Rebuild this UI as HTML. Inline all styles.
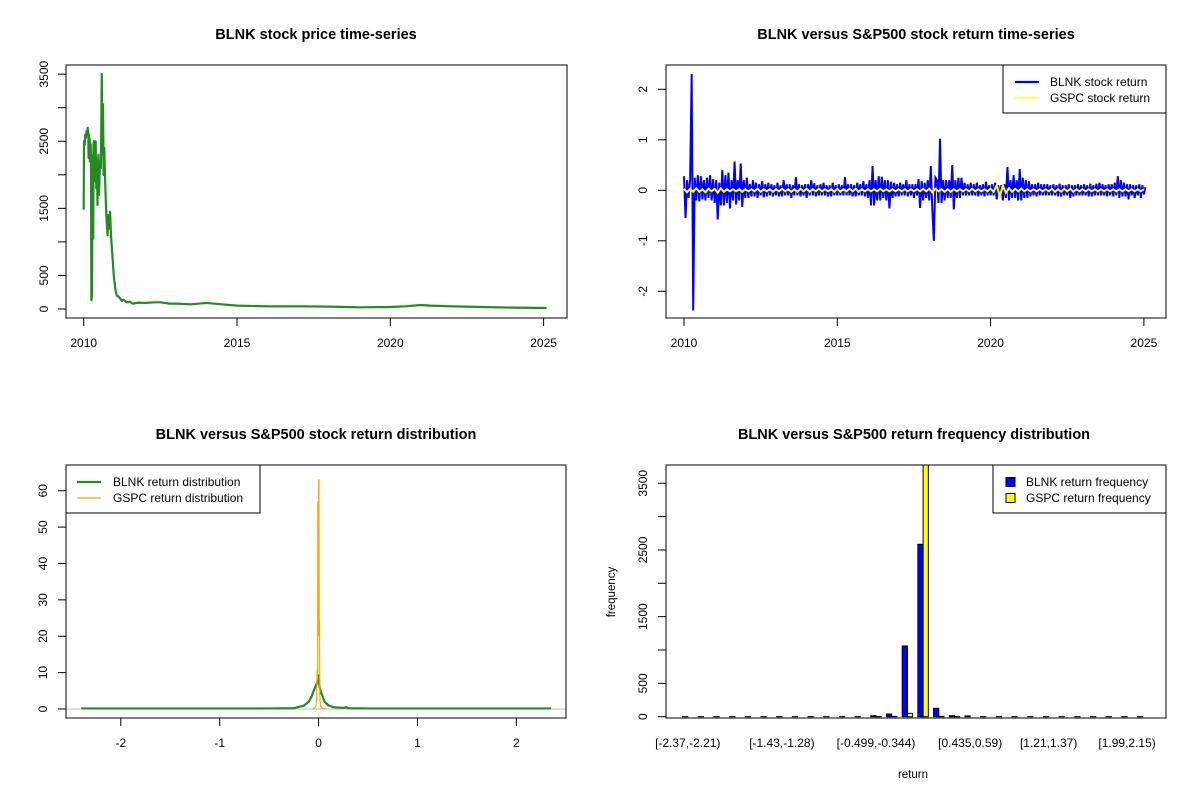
<!DOCTYPE html>
<html><head><meta charset="utf-8"><style>
html,body{margin:0;padding:0;background:#fff;}
svg{display:block;font-family:"Liberation Sans",Arial,sans-serif;}
</style></head><body>
<svg id="s" width="1200" height="800" viewBox="0 0 1200 800"></svg>
<script>
// ---------- data ----------
const priceYears=[2010.0,2010.01,2010.03,2010.05,2010.07,2010.09,2010.11,2010.13,2010.15,2010.16,2010.17,2010.18,2010.19,2010.2,2010.21,2010.22,2010.23,2010.24,2010.25,2010.27,2010.28,2010.29,2010.31,2010.32,2010.33,2010.34,2010.36,2010.37,2010.39,2010.41,2010.42,2010.43,2010.45,2010.46,2010.48,2010.5,2010.53,2010.56,2010.59,2010.61,2010.63,2010.65,2010.67,2010.7,2010.73,2010.75,2010.78,2010.8,2010.83,2010.86,2010.89,2010.92,2010.95,2010.98,2011.03,2011.08,2011.15,2011.2,2011.25,2011.3,2011.4,2011.5,2011.6,2011.8,2012.0,2012.3,2012.5,2012.8,2013.0,2013.5,2014.0,2014.5,2015.0,2016,2017,2018,2019,2020,2020.5,2021,2021.3,2022,2023,2024,2025.1];
const priceValues=[1480,2500,2450,2600,2550,2650,2600,2700,2620,2250,2600,2300,2550,2200,2500,2300,2450,2000,130,200,1200,2300,1050,2450,2500,1900,2000,2450,2500,1800,2100,2200,1550,2000,2300,1700,2200,2100,3500,2300,3050,2000,2400,1900,1500,1300,1100,1400,1200,1450,1100,900,700,500,300,200,180,150,120,140,100,110,80,95,90,100,100,80,80,70,90,70,50,40,40,35,25,30,40,60,50,40,30,20,15];
const priceTicks=[0,500,1000,1500,2000,2500,3000,3500];
const priceTickLabels=["0","500","","1500","","2500","","3500"];
const yearTicks=[2010,2015,2020,2025];

const retStartYear=2010, retStepYear=0.05;
const blnkReturns=[
0.28,-0.55,0.2,-0.15,0.22,2.3,-2.38,0.25,-0.2,0.3,-0.22,0.28,-0.18,0.2,-0.2,0.25,-0.15,0.3,-0.2,0.22,
-0.25,0.2,-0.58,0.15,-0.3,0.4,-0.3,0.3,-0.25,0.35,-0.36,0.2,-0.2,0.57,-0.28,0.2,-0.2,0.53,-0.33,0.2,
-0.15,0.25,-0.15,0.12,-0.12,0.2,-0.12,0.15,-0.15,0.12,-0.1,0.18,-0.14,0.12,-0.12,0.15,-0.1,0.12,-0.12,0.1,
-0.1,0.15,-0.12,0.1,-0.12,0.2,-0.1,0.12,-0.1,0.12,-0.15,0.1,-0.1,0.26,-0.1,0.12,-0.12,0.1,-0.1,0.12,
-0.15,0.12,-0.1,0.2,-0.1,0.14,-0.12,0.1,-0.1,0.12,-0.1,0.15,-0.1,0.1,-0.12,0.1,-0.12,0.15,-0.1,0.1,
-0.1,0.12,-0.1,0.1,-0.1,0.26,-0.1,0.12,-0.1,0.12,-0.12,0.1,-0.12,0.15,-0.1,0.12,-0.1,0.18,-0.12,0.12,
-0.15,0.2,-0.3,0.48,-0.3,0.2,-0.2,0.28,-0.2,0.27,-0.15,0.2,-0.2,0.2,-0.36,0.17,-0.15,0.15,-0.12,0.12,
-0.12,0.15,-0.1,0.12,-0.1,0.2,-0.12,0.12,-0.1,0.12,-0.15,0.12,-0.1,0.22,-0.35,0.18,-0.2,0.15,-0.15,0.2,
-0.2,0.48,-0.4,-1.0,0.25,0.2,-0.25,1.02,-0.25,0.2,-0.2,0.2,-0.15,0.2,-0.15,0.5,-0.38,0.2,-0.15,0.25,
-0.15,0.25,-0.1,0.15,-0.1,0.12,-0.1,0.15,-0.1,0.12,-0.1,0.15,-0.12,0.1,-0.1,0.12,-0.12,0.17,-0.1,0.1,
-0.1,0.12,-0.1,0.15,-0.18,0.1,-0.12,0.1,-0.2,0.12,-0.15,0.46,-0.2,0.2,-0.15,0.3,-0.15,0.2,-0.2,0.42,
-0.2,0.25,-0.15,0.2,-0.15,0.18,-0.12,0.12,-0.1,0.12,-0.12,0.15,-0.1,0.12,-0.1,0.12,-0.1,0.12,-0.1,0.1,
-0.1,0.12,-0.1,0.1,-0.12,0.13,-0.12,0.1,-0.1,0.1,-0.1,0.12,-0.15,0.1,-0.12,0.1,-0.1,0.12,-0.1,0.1,
-0.1,0.12,-0.1,0.1,-0.12,0.13,-0.12,0.1,-0.1,0.13,-0.1,0.15,-0.1,0.12,-0.1,0.1,-0.12,0.12,-0.1,0.12,
-0.12,0.15,-0.1,0.28,-0.15,0.2,-0.12,0.15,-0.12,0.12,-0.18,0.12,-0.1,0.1,-0.15,0.1,-0.1,0.12,-0.15,0.1,
-0.08,0.06];
const gspcStepYear=0.1;
const gspcReturns=[
0.03,-0.04,0.03,-0.03,0.04,-0.03,0.02,-0.04,0.03,-0.02,
0.03,-0.05,0.04,-0.03,0.02,-0.02,0.02,-0.02,0.02,-0.03,
0.02,-0.02,0.02,-0.02,0.03,-0.03,0.02,-0.02,0.02,-0.03,
0.02,-0.02,0.03,-0.02,0.02,-0.03,0.02,-0.03,0.03,-0.02,
0.03,-0.03,0.02,-0.02,0.03,-0.02,0.02,-0.02,0.02,-0.03,
0.03,-0.03,0.02,-0.02,0.03,-0.02,0.03,-0.03,0.02,-0.02,
0.02,-0.02,0.02,-0.02,0.03,-0.02,0.02,-0.02,0.02,-0.02,
0.02,-0.02,0.02,-0.02,0.02,-0.02,0.02,-0.02,0.03,-0.02,
0.03,-0.04,0.03,-0.02,0.02,-0.03,0.02,-0.03,0.02,-0.02,
0.02,-0.02,0.02,-0.02,0.03,-0.02,0.02,-0.02,0.02,-0.02,
0.03,-0.03,0.1,-0.12,0.09,-0.05,0.04,-0.03,0.03,-0.02,
0.03,-0.02,0.02,-0.02,0.02,-0.02,0.02,-0.02,0.02,-0.02,
0.03,-0.03,0.02,-0.03,0.03,-0.02,0.03,-0.03,0.02,-0.02,
0.02,-0.02,0.02,-0.02,0.02,-0.02,0.02,-0.02,0.02,-0.02,
0.02,-0.02,0.02,-0.02,0.02,-0.02,0.02,-0.02,0.02,-0.02,
0.02];
const retTicks=[-2,-1,0,1,2];

const blnkDensX=[-2.4,-0.5,-0.25,-0.2,-0.15,-0.1,-0.07,-0.05,-0.03,-0.02,-0.01,0,0.01,0.02,0.04,0.06,0.1,0.15,0.2,0.25,0.28,0.3,0.5,2.35];
const blnkDensY=[0.15,0.15,0.2,0.6,0.9,2,3.5,5,6.3,7,7,9.5,6,5,3.5,2,1,0.5,0.4,0.3,0.5,0.2,0.15,0.15];
const gspcDensX=[-0.06,-0.03,-0.02,-0.015,-0.01,-0.008,-0.005,-0.003,0,0.003,0.006,0.009,0.012,0.016,0.02,0.03,0.05,0.08];
const gspcDensY=[0,0.5,2,11,8,57,57,20,63,63,24,24,4,2,1,0.3,0.2,0];
const densXTicks=[-2,-1,0,1,2];
const densYTicks=[0,10,20,30,40,50,60];

const blnkFreq=[1,1,1,1,1,1,1,1,1,1,1,1,15,40,1060,2585,126,15,12,1,1,1,1,1,1,1,1,1,1,1];
const gspcFreq=[0,0,0,0,0,0,0,0,0,0,0,0,2,5,50,4400,5,2,0,0,0,0,0,0,0,0,0,0,0,0];
const freqTicks=[0,500,1000,1500,2000,2500,3000,3500];
const freqTickLabels=["0","500","","1500","","2500","","3500"];
const binLabelIdx=[0,6,12,18,23,28];
const binLabels=["[-2.37,-2.21)","[-1.43,-1.28)","[-0.499,-0.344)","[0.435,0.59)","[1.21,1.37)","[1.99,2.15)"];

// ---------- helpers ----------
const S=document.getElementById('s');
const NS='http://www.w3.org/2000/svg';
function el(tag,attrs,parent){const e=document.createElementNS(NS,tag);for(const k in attrs)e.setAttribute(k,attrs[k]);(parent||S).appendChild(e);return e;}
function txt(x,y,str,size,extra){const t=el('text',Object.assign({x:x,y:y,'font-size':size,'text-anchor':'middle','dominant-baseline':'central',fill:'#000'},extra||{}));t.textContent=str;return t;}
function box(L,T,R,B){return el('rect',{x:L,y:T,width:R-L,height:B-T,fill:'none',stroke:'#000','stroke-width':1});}
function xtick(x,B){return el('line',{x1:x,y1:B,x2:x,y2:B+8,stroke:'#000'});}
function ytick(y,L){return el('line',{x1:L-8,y1:y,x2:L,y2:y,stroke:'#000'});}
function ylab(x,y,s){return txt(x,y,s,12,{transform:'rotate(-90 '+x+' '+y+')'});}

// ===== Panel 1: price =====
(function(){
const L=66,R=567,T=65,B=318;
const X=v=>83.7+(v-2010)*30.66, Y=v=>309-v*0.0671;
const t=txt(316,35,'BLNK stock price time-series',14.5,{'font-weight':'bold'});


const p=el('polyline',{points:priceYears.map((yy,i)=>X(yy)+','+Y(priceValues[i])).join(' '),fill:'none',stroke:'#228B22','stroke-width':2.2,'stroke-linejoin':'round'});


const b=box(L,T,R,B);


el('line',{x1:X(2010),y1:B,x2:X(2025),y2:B,stroke:'#000'});
yearTicks.forEach(yy=>{xtick(X(yy),B);const l=txt(X(yy),343,String(yy),12);

});
priceTicks.forEach((v,i)=>{ytick(Y(v),L);if(priceTickLabels[i]){const l=ylab(L-22,Y(v),priceTickLabels[i]);

}});
})();

// ===== Panel 2: returns =====
(function(){
const L=666,R=1166,T=65,B=318;
const X=v=>684+(v-2010)*30.66, Y=v=>190.3-v*50.5;
const t=txt(916,35,'BLNK versus S&P500 stock return time-series',14.5,{'font-weight':'bold'});


const p=el('polyline',{points:blnkReturns.map((v,i)=>X(retStartYear+i*retStepYear)+','+Y(v)).join(' '),fill:'none',stroke:'#0000FF','stroke-width':2});


const g=el('polyline',{points:gspcReturns.map((v,i)=>X(retStartYear+i*gspcStepYear)+','+Y(v)).join(' '),fill:'none',stroke:'#FFFF00','stroke-width':2});


const b=box(L,T,R,B);


el('line',{x1:X(2010),y1:B,x2:X(2025),y2:B,stroke:'#000'});
yearTicks.forEach(yy=>{xtick(X(yy),B);const l=txt(X(yy),343,String(yy),12);

});
retTicks.forEach(v=>{ytick(Y(v),L);const l=ylab(L-23,Y(v),String(v));

});
const lg=el('g',{});


el('rect',{x:1003,y:65,width:163,height:48,fill:'#fff',stroke:'#000'},lg);
el('line',{x1:1015,y1:82,x2:1039,y2:82,stroke:'#0000FF','stroke-width':2.2},lg);
el('line',{x1:1015,y1:98,x2:1039,y2:98,stroke:'#FFFF00','stroke-width':1.2},lg);
txt(1050,82,'BLNK stock return',12,{'text-anchor':'start'});
txt(1050,98,'GSPC stock return',12,{'text-anchor':'start'});
})();

// ===== Panel 3: density =====
(function(){
const L=66,R=566,T=465,B=718;
const X=v=>318.6+v*98.9, Y=v=>709-v*3.638;
const t=txt(316,435,'BLNK versus S&P500 stock return distribution',14.5,{'font-weight':'bold'});


const z=el('line',{x1:L,y1:Y(0),x2:R,y2:Y(0),stroke:'#BEBEBE'});


const p=el('polyline',{points:blnkDensX.map((v,i)=>X(v)+','+Y(blnkDensY[i])).join(' '),fill:'none',stroke:'#228B22','stroke-width':2.2});


const g=el('polyline',{points:gspcDensX.map((v,i)=>X(v)+','+Y(gspcDensY[i])).join(' '),fill:'none',stroke:'#FFA500','stroke-width':1.2});


const b=box(L,T,R,B);


el('line',{x1:X(-2),y1:B,x2:X(2),y2:B,stroke:'#000'});
densXTicks.forEach(v=>{xtick(X(v),B);const l=txt(X(v),743,String(v),12);

});
densYTicks.forEach(v=>{ytick(Y(v),L);const l=ylab(L-23,Y(v),String(v));

});
const lg=el('g',{});


el('rect',{x:66,y:465,width:194,height:48,fill:'#fff',stroke:'#000'},lg);
el('line',{x1:77,y1:482,x2:101,y2:482,stroke:'#228B22','stroke-width':2.2},lg);
el('line',{x1:77,y1:498,x2:101,y2:498,stroke:'#FFA500','stroke-width':1.2},lg);
txt(113,482,'BLNK return distribution',12,{'text-anchor':'start'});
txt(113,498,'GSPC return distribution',12,{'text-anchor':'start'});
})();

// ===== Panel 4: histogram =====
(function(){
const L=666,R=1166,T=465,B=718;
const u=5.23, x0=677.3;
const Y=v=>716.7-v*0.0667;
const t=txt(914,435,'BLNK versus S&P500 return frequency distribution',14.5,{'font-weight':'bold'});


el('clipPath',{id:'c4'}).appendChild(document.createElementNS(NS,'rect'));
const cr=document.querySelector('#c4 rect');cr.setAttribute('x',L);cr.setAttribute('y',T);cr.setAttribute('width',R-L);cr.setAttribute('height',B-T);
const gb=el('g',{'clip-path':'url(#c4)'});
blnkFreq.forEach((v,i)=>{const xa=x0+(3*i+1)*u;
const r1=el('rect',{x:xa,y:Y(v),width:u,height:Y(0)-Y(v),fill:'#0000FF',stroke:'#000','stroke-width':1},gb);


const v2=gspcFreq[i];
const r2=el('rect',{x:xa+u,y:Y(v2),width:u,height:Y(0)-Y(v2),fill:'#FFFF00',stroke:'#000','stroke-width':1},gb);

});
const b=box(L,T,R,B);


freqTicks.forEach((v,i)=>{ytick(Y(v),L);if(freqTickLabels[i]){const l=ylab(L-23,Y(v),freqTickLabels[i]);

}});
binLabelIdx.forEach((bi,k)=>{const l=txt(x0+(3*bi+2)*u,743,binLabels[k],12);

});
const ya=ylab(612,592,'frequency');
ya.setAttribute('font-size','11.5');


const xa=txt(913,775,'return',11.5);


const lg=el('g',{});


el('rect',{x:993,y:465,width:173,height:48,fill:'#fff',stroke:'#000'},lg);
el('rect',{x:1006,y:477.5,width:9,height:9,fill:'#0000FF',stroke:'#000'},lg);
el('rect',{x:1006,y:493.5,width:9,height:9,fill:'#FFFF00',stroke:'#000'},lg);
txt(1026,482,'BLNK return frequency',12,{'text-anchor':'start'});
txt(1026,498,'GSPC return frequency',12,{'text-anchor':'start'});
})();
</script>
</body></html>
